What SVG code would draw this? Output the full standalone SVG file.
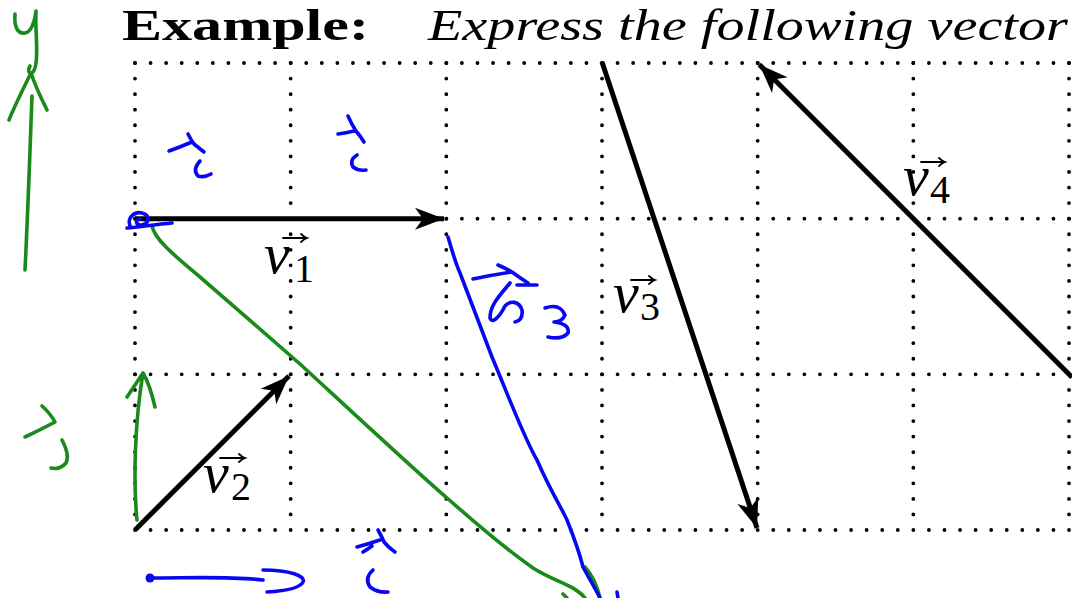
<svg xmlns="http://www.w3.org/2000/svg" width="1072" height="598" viewBox="0 0 1072 598">
<defs>
<style>
.grid{stroke:#000;stroke-width:3.8;stroke-linecap:round;stroke-dasharray:0 15.567;fill:none}
.vec{stroke:#000;stroke-width:5;fill:none;stroke-linecap:butt}
.g{stroke:#1a8a1a;stroke-width:3.6;fill:none;stroke-linecap:round;stroke-linejoin:round}
.b{stroke:#0808f0;stroke-width:3.6;fill:none;stroke-linecap:round;stroke-linejoin:round}
.t{font-family:'Liberation Serif','Times New Roman',serif;fill:#000}
.lv{font-family:'Liberation Serif','Times New Roman',serif;font-style:italic;font-size:58px;fill:#000}
.ld{font-family:'Liberation Serif','Times New Roman',serif;font-size:40px;fill:#000}
.acc{stroke:#000;stroke-width:1.8;fill:none;stroke-linecap:round}
</style>
<marker id="ah" markerUnits="userSpaceOnUse" markerWidth="40" markerHeight="40" viewBox="-32 -16 40 32" refX="0" refY="0" orient="auto">
<path d="M0,0 L-29,-11 L-21,0 L-29,11 Z" fill="#000"/>
</marker>
</defs>
<rect width="1072" height="598" fill="#fff"/>
<g id="title">
<text class="t" x="122" y="40" font-weight="bold" font-size="44" textLength="247" lengthAdjust="spacingAndGlyphs">Example:</text>
<text class="t" x="428" y="40" font-style="italic" font-size="44" textLength="640" lengthAdjust="spacingAndGlyphs">Express the following vector</text>
</g>
<g id="grid">
<path class="grid" d="M135,63 H1072 M135,218.67 H1072 M135,374.33 H1072 M135,530 H1072"/>
<path class="grid" d="M135,63 V530 M290.67,63 V530 M446.33,63 V530 M602,63 V530 M757.67,63 V530 M913.33,63 V530 M1069,63 V530"/>
</g>
<g id="connectors">
<path id="v1" class="vec" d="M135,218.67 L444,218.67" marker-end="url(#ah)"/>
<path id="v2" class="vec" d="M135,530 L289,376" marker-end="url(#ah)"/>
<path id="v3" class="vec" d="M602,62 L757,528" marker-end="url(#ah)"/>
<path id="v4" class="vec" d="M1072,377.3 L759.3,64.6" marker-end="url(#ah)"/>
</g>
<g id="label-v1">
<text class="lv" x="264" y="273">v</text><text class="ld" x="294" y="282">1</text>
<path class="acc" d="M283,238 H307 M301,234 Q304,237 307,238 Q304,239 301,242"/>
</g>
<g id="label-v2">
<text class="lv" x="203" y="492">v</text><text class="ld" x="231" y="500">2</text>
<path class="acc" d="M220,458 H245 M239,454 Q242,457 245,458 Q242,459 239,462"/>
</g>
<g id="label-v3">
<text class="lv" x="613" y="312">v</text><text class="ld" x="640" y="320">3</text>
<path class="acc" d="M631,280 H655 M649,276 Q652,279 655,280 Q652,281 649,284"/>
</g>
<g id="label-v4">
<text class="lv" x="903" y="195">v</text><text class="ld" x="930" y="203">4</text>
<path class="acc" d="M921,162 H945 M939,158 Q942,161 945,162 Q942,163 939,166"/>
</g>
<g id="green-ink">
<path class="g" d="M15,14 C14,26 17,34 25,33 C31,32 35,22 36,11 M36,11 C35,35 39,55 35,68 C32,77 26,73 30,66"/>
<path class="g" d="M9,120 C15,105 25,85 31,73 C36,88 42,100 47,110 M32,96 C30,150 28,210 25,270"/>
<path class="g" d="M42,406 Q50,413 55,422 Q40,430 25,437 M62,440 Q70,455 66,463 Q60,470 51,468"/>
<path class="g" d="M137,520 C133,480 135,420 143,373 M127,397 Q135,385 143,373 Q150,385 155,407"/>
<path class="g" d="M152,226 C155,240 175,256 200,277 L300,364 C350,410 420,475 447,498 C470,518 500,545 533,568 C555,582 575,585 585,598"/>
<path class="g" d="M585,567 C592,575 597,585 600,598 M563,594 L567,598"/>
</g>
<g id="blue-ink">
<path class="b" d="M130,226 C127,218 134,211 142,213 C150,215 150,223 142,225 C136,226 134,219 140,219 M127,228 C145,226 160,224 172,223"/>
<path class="b" d="M169,151 Q180,147 192,142 M188,134 Q191,140 194,144 Q199,148 204,152 M200,161 Q192,170 198,176 Q204,178 211,174"/>
<path class="b" d="M338,134 Q346,133 354,131 M348,116 Q352,125 356,131 Q361,137 364,142 M357,155 Q349,160 353,167 Q358,171 366,170"/>
<path class="b" d="M357,547 Q368,544 380,540 M378,530 Q382,537 384,542 Q389,548 395,552 M363,552 Q368,549 372,546 M373,570 Q364,578 370,587 Q378,593 388,592"/>
<circle cx="150" cy="578" r="4.5" fill="#0808f0"/>
<path class="b" d="M150,578 C190,578 230,576 263,580 M263,570 C290,570 306,576 303,582 C300,588 285,591 267,592"/>
<path class="b" d="M448,237 C452,250 455,262 460,273 L492,357 C510,400 525,440 537,460 C550,490 560,505 567,520 C575,540 580,555 583,567 C590,580 596,590 600,598 M617,592 L618,598"/>
<path class="b" d="M473,279 Q492,275 512,272 M498,265 Q505,268 512,272 Q520,278 528,283 M517,285 L537,285"/>
<path class="b" d="M510,283 C500,295 490,305 490,318 C492,324 499,318 505,306 C510,300 519,301 522,310 C523,318 520,321 515,322"/>
<path class="b" d="M545,308 Q560,303 565,315 Q562,322 554,322 Q570,324 568,333 Q562,340 548,337"/>
</g>
</svg>
